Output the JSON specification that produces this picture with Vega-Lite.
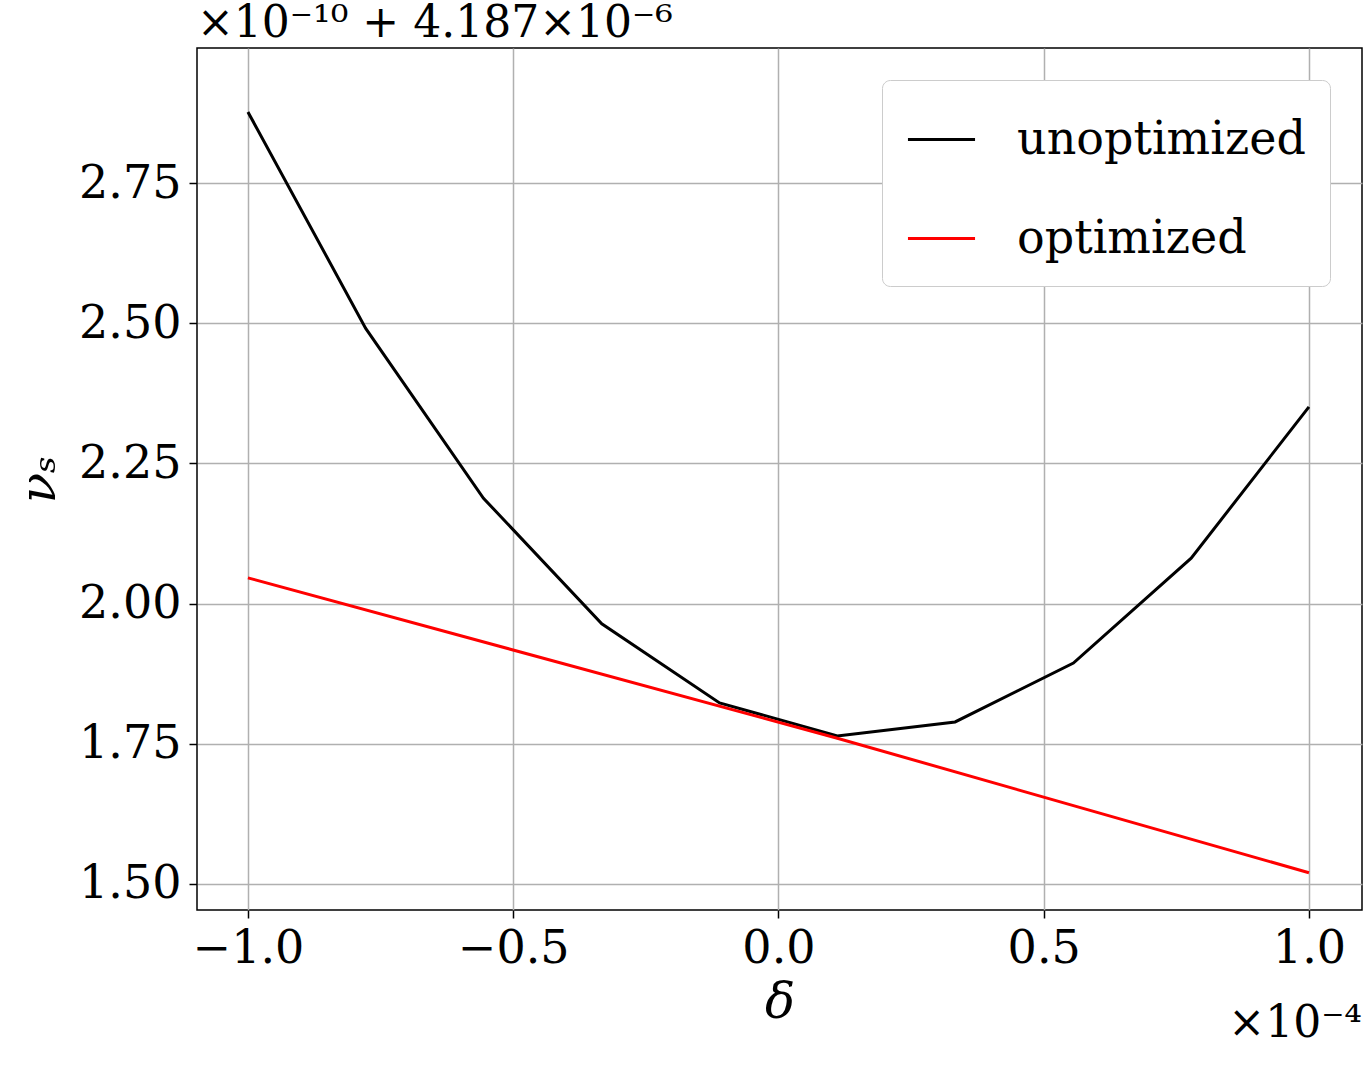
{
  "$schema": "https://vega.github.io/schema/vega-lite/v6.json",
  "autosize": {"type": "none"},
  "width": 1165,
  "height": 862,
  "padding": {"left": 197, "top": 48, "right": 8, "bottom": 162},
  "background": "white",
  "title": {
    "text": "×10⁻¹⁰ + 4.187×10⁻⁶",
    "anchor": "start",
    "frame": "group",
    "font": "DejaVu Serif",
    "fontSize": 44,
    "fontWeight": "normal",
    "offset": 2,
    "color": "black"
  },
  "datasets": {
    "lines": [
      {"delta": -1.0, "nu": 2.877, "series": "unoptimized"},
      {"delta": -0.778, "nu": 2.491, "series": "unoptimized"},
      {"delta": -0.556, "nu": 2.188, "series": "unoptimized"},
      {"delta": -0.333, "nu": 1.964, "series": "unoptimized"},
      {"delta": -0.111, "nu": 1.823, "series": "unoptimized"},
      {"delta": 0.111, "nu": 1.764, "series": "unoptimized"},
      {"delta": 0.333, "nu": 1.789, "series": "unoptimized"},
      {"delta": 0.556, "nu": 1.894, "series": "unoptimized"},
      {"delta": 0.778, "nu": 2.081, "series": "unoptimized"},
      {"delta": 1.0, "nu": 2.351, "series": "unoptimized"},
      {"delta": -1.0, "nu": 2.046, "series": "optimized"},
      {"delta": 0.111, "nu": 1.760, "series": "optimized"},
      {"delta": 1.0, "nu": 1.520, "series": "optimized"}
    ],
    "note": [{"x": 1.1, "y": 1.5, "label": "×10⁻⁴"}]
  },
  "layer": [
    {
      "data": {"name": "lines"},
      "mark": {"type": "line", "strokeWidth": 3, "clip": true},
      "encoding": {
        "x": {
          "field": "delta", "type": "quantitative",
          "scale": {"domain": [-1.096, 1.1], "nice": false, "zero": false},
          "axis": {"values": [-1.0, -0.5, 0.0, 0.5, 1.0], "format": ".1f", "title": "δ"}
        },
        "y": {
          "field": "nu", "type": "quantitative",
          "scale": {"domain": [1.4536, 2.991], "nice": false, "zero": false},
          "axis": {"values": [1.5, 1.75, 2.0, 2.25, 2.5, 2.75], "format": ".2f", "title": "νₛ"}
        },
        "color": {
          "field": "series", "type": "nominal",
          "scale": {"domain": ["unoptimized", "optimized"], "range": ["black", "red"]},
          "legend": {
            "title": null,
            "orient": "top-right",
            "offset": 32,
            "symbolType": "stroke",
            "symbolStrokeWidth": 3,
            "symbolSize": 4500,
            "labelFontSize": 46,
            "labelFont": "DejaVu Serif",
            "labelColor": "black",
            "labelLimit": 600,
            "labelOffset": 40,
            "rowPadding": 40,
            "padding": 24,
            "strokeColor": "#cccccc",
            "fillColor": "white",
            "cornerRadius": 8
          }
        }
      }
    },
    {
      "data": {"name": "note"},
      "mark": {"type": "text", "align": "right", "baseline": "top", "dy": 118, "clip": false, "font": "DejaVu Serif", "fontSize": 44, "color": "black"},
      "encoding": {
        "x": {"field": "x", "type": "quantitative"},
        "y": {"field": "y", "type": "quantitative"},
        "text": {"field": "label"}
      }
    }
  ],
  "config": {
    "view": {"stroke": "black", "strokeWidth": 1.5},
    "axis": {
      "labelFont": "DejaVu Serif",
      "titleFont": "DejaVu Serif",
      "labelFontSize": 46,
      "titleFontSize": 50,
      "titleFontStyle": "italic",
      "titleFontWeight": "normal",
      "labelColor": "black",
      "titleColor": "black",
      "gridColor": "#b0b0b0",
      "gridWidth": 1.5,
      "tickColor": "black",
      "tickSize": 8,
      "tickWidth": 1.5,
      "domain": false,
      "labelPadding": 8
    },
    "axisX": {"titlePadding": 6},
    "axisY": {"titlePadding": 14}
  }
}
